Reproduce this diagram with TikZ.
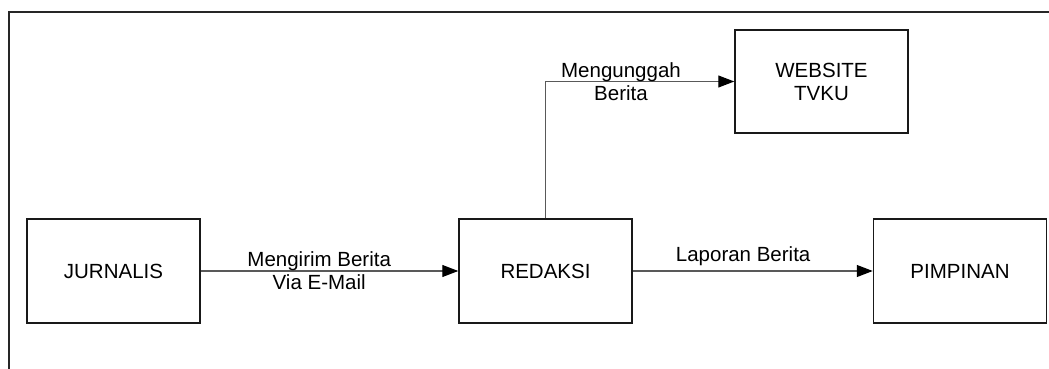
\documentclass[tikz,border=0pt]{standalone}
\usepackage{fontspec}
\setmainfont{Liberation Sans}
\usetikzlibrary{arrows.meta}
\begin{document}
\begin{tikzpicture}[x=1pt,y=-1pt,
  box/.style={draw=black!90,line width=1.5pt,minimum width=173pt,minimum height=104pt,inner sep=0pt,align=center,font=\fontsize{20.5}{23}\selectfont},
  conn/.style={draw=black!65,line width=1.1pt,-{Triangle[length=16pt,width=12pt,color=black]}},
  lbl/.style={align=center,inner sep=0pt,font=\fontsize{20.5}{23}\selectfont}]
\useasboundingbox (0,0) rectangle (1049,369);
\draw[line width=1.6pt,black!85] (9,369) -- (9,12) -- (1049,12);
\node[box] (jur) at (113.5,271) {JURNALIS};
\node[box] (red) at (545.5,271) {REDAKSI};
\node[box] (pim) at (960,271) {PIMPINAN};
\node[box,minimum height=103pt] (web) at (821.5,81.5) {WEBSITE\\TVKU};
\draw[conn] (jur.east) -- node[lbl,pos=0.46] {Mengirim Berita\\Via E-Mail} (red.west);
\draw[conn] (red.east) -- node[lbl,pos=0.46,above=5pt] {Laporan Berita} (pim.west);
\draw[conn] (red.north) |- node[lbl,pos=0.70] {Mengunggah\\Berita} (web.west);
\end{tikzpicture}
\end{document}
